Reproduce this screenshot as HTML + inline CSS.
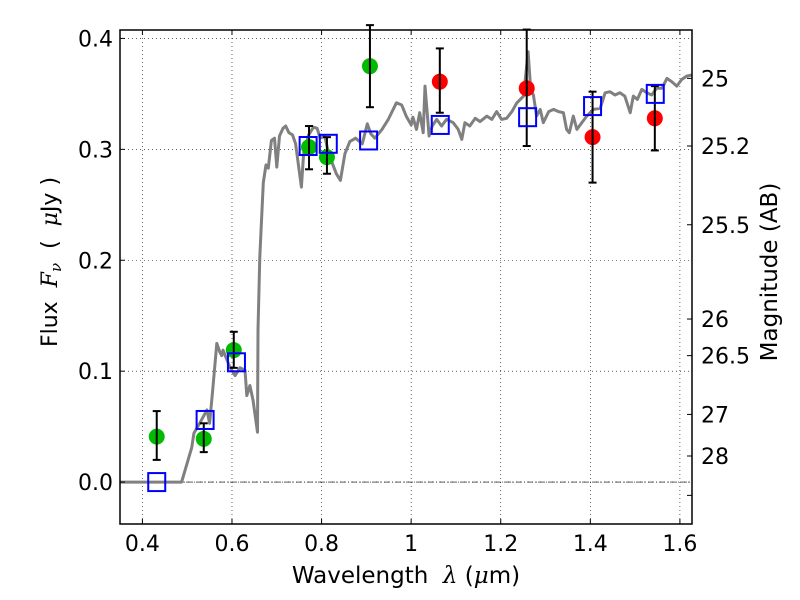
<!DOCTYPE html>
<html><head><meta charset="utf-8"><style>
body{margin:0;background:#fff;}
svg{display:block;font-family:"DejaVu Sans","Liberation Sans",sans-serif;}
</style></head><body>
<svg id="chart" width="800" height="600" viewBox="0 0 800 600" xmlns="http://www.w3.org/2000/svg">
<rect width="800" height="600" fill="#fff"/>
<g id="grid"></g>
<g id="plot"></g>
<g id="axes"></g>
<text x="406" y="583" font-size="23" text-anchor="middle" xml:space="preserve">Wavelength  <tspan font-family="DejaVu Serif" font-style="italic">λ</tspan> (<tspan font-family="DejaVu Serif" font-style="italic">μ</tspan>m)</text>
<text transform="translate(57,262) rotate(-90)" font-size="22" text-anchor="middle" xml:space="preserve">Flux  <tspan font-family="DejaVu Serif" font-style="italic">F<tspan font-size="15" dy="4">ν</tspan></tspan><tspan dy="-4">  (  </tspan><tspan font-family="DejaVu Serif" font-style="italic">μ</tspan>Jy )</text>
<text transform="translate(777,272) rotate(-90)" font-size="23" text-anchor="middle">Magnitude (AB)</text>
</svg>
<script>
const xTicks=[0.4,0.6,0.8,1.0,1.2,1.4,1.6];
const xTickLabels=["0.4","0.6","0.8","1","1.2","1.4","1.6"];
const yTicks=[0.0,0.1,0.2,0.3,0.4];
const yTickLabels=["0.0","0.1","0.2","0.3","0.4"];
const magLabels=["25","25.2","25.5","26","26.5","27","28",""];
const magFlux=[0.364,0.303,0.232,0.147,0.114,0.061,0.0235,-0.012];
const greenX=[0.432,0.537,0.604,0.772,0.812,0.908];
const greenY=[0.041,0.039,0.119,0.302,0.293,0.375];
const greenLo=[0.020,0.027,0.103,0.282,0.278,0.338];
const greenHi=[0.064,0.053,0.1355,0.321,0.311,0.412];
const redX=[1.064,1.258,1.405,1.544];
const redY=[0.361,0.355,0.311,0.328];
const redLo=[0.333,0.303,0.270,0.299];
const redHi=[0.391,0.408,0.352,0.357];
const modelX=[0.432,0.54,0.61,0.77,0.815,0.905,1.065,1.26,1.405,1.545];
const modelY=[0.0,0.056,0.108,0.303,0.305,0.308,0.322,0.329,0.339,0.350];
const specX=[0.35,0.4875,0.51,0.515,0.528,0.544,0.55,0.557,0.566,0.573,0.577,0.58,0.595,0.607,0.618,0.629,0.633,0.64,0.647,0.657,0.658,0.662,0.67,0.676,0.681,0.688,0.695,0.70,0.706,0.714,0.72,0.727,0.735,0.742,0.755,0.76,0.771,0.782,0.79,0.797,0.807,0.816,0.833,0.842,0.852,0.863,0.876,0.891,0.902,0.91,0.919,0.935,0.949,0.967,0.979,0.989,1.0,1.004,1.012,1.019,1.027,1.031,1.040,1.047,1.057,1.068,1.079,1.094,1.105,1.113,1.12,1.131,1.143,1.154,1.169,1.18,1.191,1.202,1.213,1.225,1.236,1.251,1.261,1.267,1.273,1.28,1.288,1.295,1.307,1.318,1.329,1.34,1.347,1.353,1.362,1.37,1.381,1.392,1.407,1.422,1.433,1.444,1.455,1.466,1.477,1.489,1.496,1.505,1.515,1.526,1.537,1.548,1.56,1.571,1.582,1.593,1.604,1.615,1.627];
const specY=[0,0,0.031,0.044,0.053,0.065,0.053,0.083,0.125,0.117,0.114,0.119,0.104,0.096,0.103,0.101,0.078,0.087,0.074,0.045,0.137,0.203,0.270,0.286,0.283,0.308,0.310,0.284,0.312,0.319,0.321,0.315,0.313,0.305,0.266,0.296,0.313,0.320,0.319,0.310,0.312,0.296,0.278,0.272,0.296,0.307,0.310,0.305,0.323,0.314,0.310,0.318,0.327,0.342,0.340,0.330,0.322,0.329,0.318,0.333,0.315,0.357,0.312,0.321,0.327,0.321,0.327,0.324,0.318,0.309,0.324,0.321,0.328,0.325,0.330,0.327,0.334,0.327,0.328,0.334,0.342,0.348,0.388,0.354,0.349,0.330,0.336,0.324,0.334,0.336,0.334,0.333,0.318,0.315,0.330,0.318,0.324,0.330,0.336,0.337,0.351,0.352,0.349,0.351,0.348,0.333,0.348,0.345,0.354,0.351,0.349,0.355,0.355,0.364,0.361,0.357,0.363,0.366,0.367];

const L=120,R=692,T=30,B=524;
const X0=0.35,X1=1.627,Y0=-0.0378,Y1=0.4076;
const sx=v=>L+(v-X0)/(X1-X0)*(R-L);
const sy=v=>B-(v-Y0)/(Y1-Y0)*(B-T);
const NS="http://www.w3.org/2000/svg";
function mk(tag,attrs,parent){const e=document.createElementNS(NS,tag);for(const k in attrs)e.setAttribute(k,attrs[k]);parent.appendChild(e);return e;}
const grid=document.getElementById('grid'),plot=document.getElementById('plot'),axes=document.getElementById('axes');

xTicks.forEach((v,i)=>{
  const g=mk('line',{x1:sx(v),x2:sx(v),y1:T,y2:B,stroke:'#000','stroke-width':0.6,'stroke-dasharray':'1,3'},grid);
  
  
  const t1=mk('line',{x1:sx(v),x2:sx(v),y1:B,y2:B-5,stroke:'#000','stroke-width':1},axes);
  
  
  const t2=mk('line',{x1:sx(v),x2:sx(v),y1:T,y2:T+5,stroke:'#000','stroke-width':1},axes);
  
  
  const tx=mk('text',{x:sx(v),y:B+27,'font-size':22,'text-anchor':'middle'},axes);
  tx.textContent=xTickLabels[i];
  
  
});
yTicks.forEach((v,i)=>{
  const g=mk('line',{x1:L,x2:R,y1:sy(v),y2:sy(v),stroke:'#000','stroke-width':0.6,'stroke-dasharray':'1,3'},grid);
  
  
  const t=mk('line',{x1:L,x2:L+5,y1:sy(v),y2:sy(v),stroke:'#000','stroke-width':1},axes);
  
  
  const tx=mk('text',{x:L-7,y:sy(v)+8,'font-size':22,'text-anchor':'end'},axes);
  tx.textContent=yTickLabels[i];
  
  
});
magFlux.forEach((v,i)=>{
  const t=mk('line',{x1:R,x2:R-5,y1:sy(v),y2:sy(v),stroke:'#000','stroke-width':1},axes);
  
  
  if(magLabels[i]){
    const tx=mk('text',{x:R+9,y:sy(v)+8,'font-size':22},axes);
    tx.textContent=magLabels[i];
    
    
  }
});
const zl=mk('line',{x1:L,x2:R,y1:sy(0),y2:sy(0),stroke:'#000','stroke-width':0.6,'stroke-dasharray':'6,2,1,2'},grid);



const pts=specX.map((x,i)=>sx(x).toFixed(1)+','+sy(specY[i]).toFixed(1)).join(' ');
const sp=mk('polyline',{points:pts,fill:'none',stroke:'#808080','stroke-width':3,'stroke-linejoin':'round'},plot);



function errbar(x,lo,hi){
  const g=mk('g',{stroke:'#000','stroke-width':2},plot);
  
  
  mk('line',{x1:sx(x),x2:sx(x),y1:sy(lo),y2:sy(hi)},g);
  mk('line',{x1:sx(x)-4,x2:sx(x)+4,y1:sy(lo),y2:sy(lo)},g);
  mk('line',{x1:sx(x)-4,x2:sx(x)+4,y1:sy(hi),y2:sy(hi)},g);
}
greenX.forEach((x,i)=>{
  const c=mk('circle',{cx:sx(x),cy:sy(greenY[i]),r:8,fill:'#00bb00'},plot);
  
  
  errbar(x,greenLo[i],greenHi[i]);
});
redX.forEach((x,i)=>{
  const c=mk('circle',{cx:sx(x),cy:sy(redY[i]),r:8,fill:'#ff0000'},plot);
  
  
  errbar(x,redLo[i],redHi[i]);
});
modelX.forEach((x,i)=>{
  const r=mk('rect',{x:sx(x)-8.5,y:sy(modelY[i])-9,width:17,height:18,fill:'none',stroke:'#0000ff','stroke-width':2},plot);
  
  
});
const fr=mk('rect',{x:L,y:T,width:R-L,height:B-T,fill:'none',stroke:'#000','stroke-width':1.5},axes);


</script>
</body></html>
